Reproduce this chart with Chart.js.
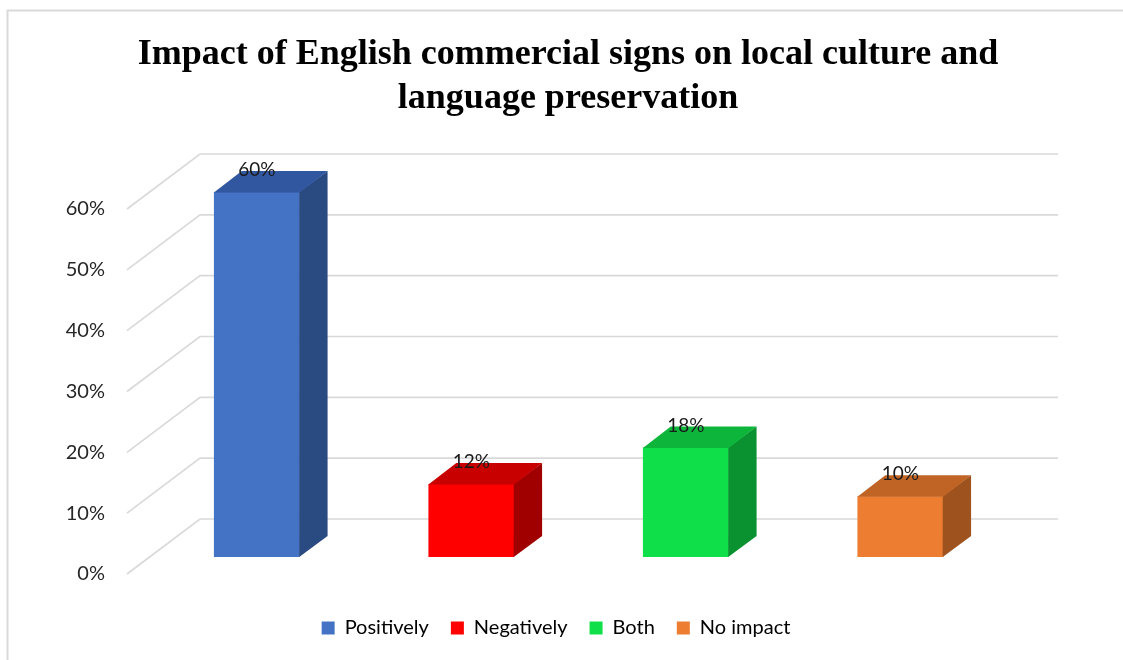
<!DOCTYPE html>
<html>
<head>
<meta charset="utf-8">
<title>Impact of English commercial signs</title>
<script src="https://cdn.jsdelivr.net/npm/chart.js@4.4.1/dist/chart.umd.min.js"></script>
<style>
  html, body { margin: 0; padding: 0; background: #ffffff; }
  #wrap { width: 1123px; height: 660px; position: relative; }
</style>
</head>
<body>
<div id="wrap"><canvas id="chart" width="1123" height="660"></canvas></div>
<script>
// Survey answers and their shares (%)
const categories = ['Positively', 'Negatively', 'Both', 'No impact'];
const shares = [60, 12, 18, 10];
const yTicks = [0, 10, 20, 30, 40, 50, 60];
const chartTitle = ['Impact of English commercial signs on local culture and', 'language preservation'];

// Face colours of each column: front, top, right side
const frontColors = ['#4472C4', '#FF0000', '#0FE049', '#ED7D31'];
const topColors = ['#3157A0', '#C80000', '#0DB53B', '#BF6425'];
const sideColors = ['#2A4A82', '#A00000', '#0A9130', '#9E521E'];

// Oblique depth of the floor, and where the columns sit inside it
const DEPTH_X = 73, DEPTH_Y = 55;
const BAR_FRONT = 17 / 55, BAR_DEPTH = 21 / 55;
const GRID = '#d9d9d9';

const depthPlugin = {
  id: 'depth3d',
  beforeDraw(chart) {
    const { ctx, width, height } = chart;
    ctx.save();
    ctx.fillStyle = '#ffffff';
    ctx.fillRect(0, 0, width, height);
    ctx.strokeStyle = GRID;
    ctx.lineWidth = 2;
    ctx.beginPath();
    ctx.moveTo(7.5, height);
    ctx.lineTo(7.5, 10.5);
    ctx.lineTo(width, 10.5);
    ctx.stroke();
    ctx.restore();
  },
  beforeDatasetsDraw(chart) {
    const { ctx, chartArea: a, scales: { y } } = chart;
    // side wall and back wall gridlines
    ctx.save();
    ctx.strokeStyle = GRID;
    ctx.lineWidth = 1.6;
    yTicks.forEach(v => {
      const py = y.getPixelForValue(v);
      ctx.beginPath();
      ctx.moveTo(a.left, py);
      ctx.lineTo(a.left + DEPTH_X, py - DEPTH_Y);
      ctx.lineTo(a.right + DEPTH_X, py - DEPTH_Y);
      ctx.stroke();
    });
    ctx.restore();
    // column fronts are drawn pushed back into the floor
    ctx.save();
    ctx.translate(DEPTH_X * BAR_FRONT, -DEPTH_Y * BAR_FRONT);
  },
  afterDatasetsDraw(chart) {
    const ctx = chart.ctx;
    ctx.restore();
    const meta = chart.getDatasetMeta(0);
    const ox = DEPTH_X * BAR_FRONT, oy = -DEPTH_Y * BAR_FRONT;
    const dx = DEPTH_X * BAR_DEPTH, dy = -DEPTH_Y * BAR_DEPTH;
    ctx.save();
    meta.data.forEach((bar, i) => {
      const { x, y, base, width } = bar.getProps(['x', 'y', 'base', 'width'], true);
      const l = x - width / 2 + ox, r = x + width / 2 + ox;
      const t = y + oy, b = base + oy;
      ctx.fillStyle = sideColors[i];
      ctx.beginPath();
      ctx.moveTo(r - 0.5, t);
      ctx.lineTo(r + dx, t + dy);
      ctx.lineTo(r + dx, b + dy);
      ctx.lineTo(r - 0.5, b);
      ctx.closePath();
      ctx.fill();
      ctx.fillStyle = topColors[i];
      ctx.beginPath();
      ctx.moveTo(l, t + 0.5);
      ctx.lineTo(r, t + 0.5);
      ctx.lineTo(r + dx, t + dy);
      ctx.lineTo(l + dx, t + dy);
      ctx.closePath();
      ctx.fill();
      ctx.fillStyle = '#1a1a1a';
      ctx.font = '19px Lato';
      ctx.textAlign = 'center';
      ctx.textBaseline = 'middle';
      ctx.fillText(shares[i] + '%', x + ox, t - 22);
    });
    ctx.restore();
  }
};

new Chart(document.getElementById('chart'), {
  type: 'bar',
  data: {
    labels: categories,
    datasets: [{
      data: shares,
      backgroundColor: frontColors,
      borderWidth: 0,
      categoryPercentage: 1,
      barPercentage: 0.4,
      clip: false
    }]
  },
  options: {
    responsive: false,
    animation: false,
    devicePixelRatio: 1,
    layout: { padding: { left: 13, right: 0, top: 10, bottom: 12 } },
    scales: {
      x: {
        display: true,
        ticks: { display: false },
        grid: { display: false, drawTicks: false },
        border: { display: false },
        afterFit(s) { s.height = 22; }
      },
      y: {
        min: 0,
        max: 60,
        ticks: {
          stepSize: 10,
          padding: 22,
          color: '#262626',
          font: { family: 'Lato', size: 20 },
          callback: v => v + '%'
        },
        grid: { display: false, drawTicks: false },
        border: { display: false },
        afterFit(s) { s.width = 114; }
      },
      depth: {
        type: 'linear',
        position: 'right',
        display: true,
        ticks: { display: false },
        grid: { display: false, drawTicks: false },
        border: { display: false },
        afterFit(s) { s.width = 138; }
      }
    },
    plugins: {
      title: {
        display: true,
        text: chartTitle,
        color: '#000000',
        fullSize: true,
        font: { family: 'Liberation Serif', size: 36, weight: 'bold', lineHeight: '44px' },
        padding: { top: 23, bottom: 88 }
      },
      legend: {
        position: 'bottom',
        fullSize: false,
        labels: {
          font: { family: 'Lato', size: 20 },
          color: '#1a1a1a',
          boxWidth: 13,
          boxHeight: 13,
          padding: 22,
          generateLabels: () => categories.map((c, i) => ({
            text: c,
            fillStyle: frontColors[i],
            strokeStyle: frontColors[i],
            lineWidth: 0,
            hidden: false,
            index: i
          }))
        }
      },
      tooltip: { enabled: false }
    }
  },
  plugins: [depthPlugin]
});
</script>
</body>
</html>
